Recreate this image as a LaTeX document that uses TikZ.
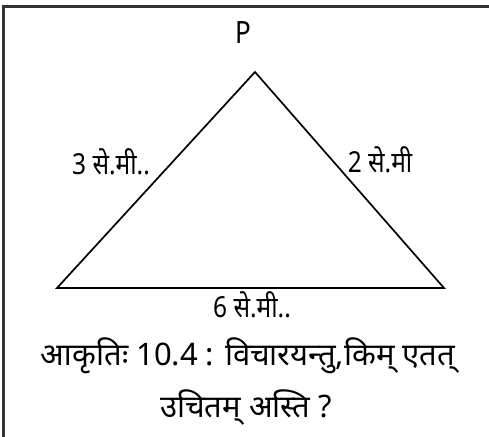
\documentclass[tikz,border=0pt]{standalone}
\usepackage{graphicx}
\usepackage{fontspec}
\setmainfont{Noto Sans}
\newfontfamily\devfont[Script=Devanagari]{Noto Sans}
\usepackage{tikz}
\usetikzlibrary{positioning}
\newcommand{\tallbox}[1]{\scalebox{1}[1.18]{#1}}
\tikzset{
  frameline/.style={line width=3pt, black!80},
  sideline/.style={line width=1.7pt, black, line join=miter},
  sidelabel/.style={font=\devfont\fontsize{24.5}{26}\selectfont, inner sep=0pt},
  captext/.style={font=\devfont\fontsize{31}{34}\selectfont, inner sep=0pt},
}

\begin{document}
\begin{tikzpicture}[x=1pt, y=-1pt]
  \useasboundingbox (0,0) rectangle (489,436);
  % frame
  \draw[frameline] (3,445) -- (3,7) -- (495,7);
  % triangle
  \coordinate (apex) at (255,72);
  \coordinate (left) at (57,288);
  \coordinate (right) at (444,288);
  \draw[sideline] (apex) -- (left) -- (right) -- cycle;
  \node[font=\fontsize{26}{28}\selectfont, inner sep=0pt] (lblP) at (243,33) {\tallbox{P}};
  % side lengths
  \node[sidelabel] (sideA) at (111,162) {\tallbox{3 से.मी..}};
  \node[sidelabel] (sideB) at (380,160) {\tallbox{2 से.मी}};
  \node[sidelabel] (sideC) at (252,305) {\tallbox{6 से.मी..}};
  % caption
  \node[captext] (capA) at (248,356) {आकृतिः 10.4 : विचारयन्तु,किम् एतत्};
  \node[captext] (capB) at (246,408) {उचितम् अस्ति ?};
\end{tikzpicture}
\end{document}
